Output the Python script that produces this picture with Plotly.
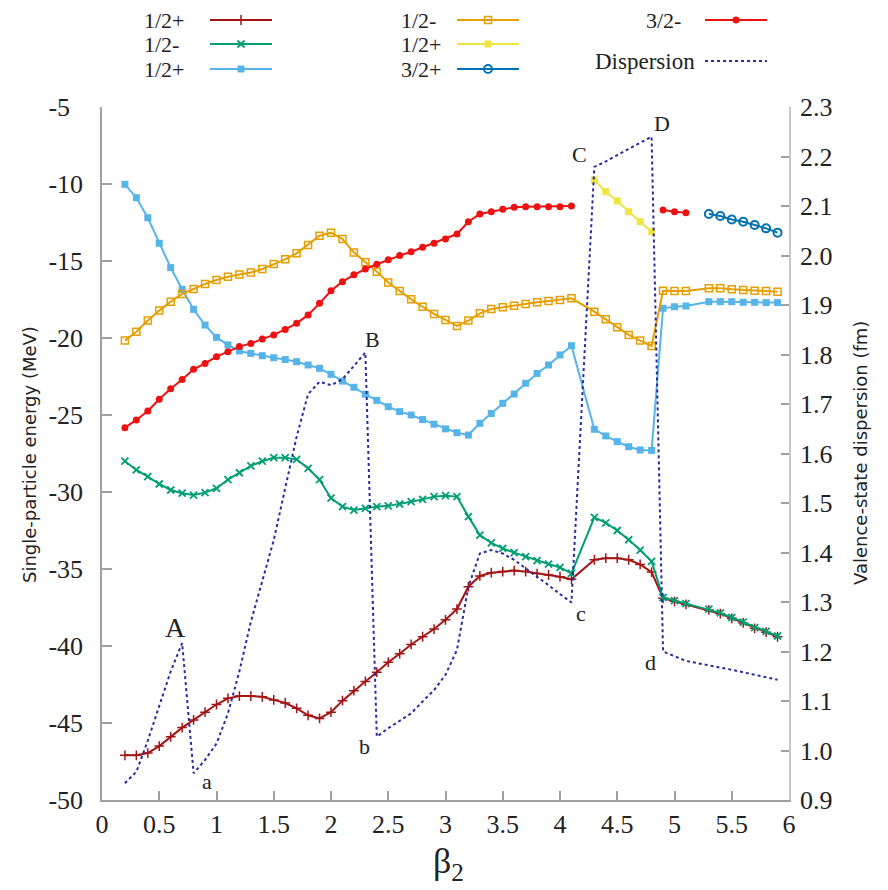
import plotly.graph_objects as go

# ---------------- data ----------------
beta = [0.2, 0.3, 0.4, 0.5, 0.6, 0.7, 0.8, 0.9, 1.0, 1.1,
        1.2, 1.3, 1.4, 1.5, 1.6, 1.7, 1.8, 1.9, 2.0, 2.1,
        2.2, 2.3, 2.4, 2.5, 2.6, 2.7, 2.8, 2.9, 3.0, 3.1,
        3.2, 3.3, 3.4, 3.5, 3.6, 3.7, 3.8, 3.9, 4.0, 4.1,
        4.3, 4.4, 4.5, 4.6, 4.7, 4.8, 4.9, 5.0, 5.1,
        5.3, 5.4, 5.5, 5.6, 5.7, 5.8, 5.9]

e_half_plus_a = [-47.1, -47.1, -46.95, -46.5, -45.9, -45.3, -44.8, -44.3, -43.8, -43.4,
                 -43.25, -43.25, -43.3, -43.5, -43.7, -44.05, -44.5, -44.7, -44.3, -43.55,
                 -42.9, -42.3, -41.7, -41.05, -40.5, -39.9, -39.4, -38.9, -38.3, -37.6,
                 -36.15, -35.45, -35.24, -35.17, -35.1, -35.17, -35.3, -35.39, -35.5, -35.67,
                 -34.4, -34.3, -34.3, -34.4, -34.7, -35.2, -36.9, -37.1, -37.3,
                 -37.66, -37.9, -38.2, -38.5, -38.85, -39.1, -39.4]

e_half_minus_a = [-28.0, -28.57, -29.0, -29.48, -29.87, -30.08, -30.2, -30.04, -29.76, -29.2,
                  -28.75, -28.3, -28.0, -27.77, -27.77, -27.88, -28.46, -29.2, -30.4, -30.95,
                  -31.17, -31.06, -30.95, -30.9, -30.78, -30.63, -30.48, -30.3, -30.24, -30.3,
                  -31.6, -32.8, -33.3, -33.66, -33.94, -34.2, -34.46, -34.68, -34.9, -35.28,
                  -31.65, -32.0, -32.5, -33.1, -33.77, -34.5, -36.85, -37.05, -37.25,
                  -37.6, -37.85, -38.15, -38.45, -38.8, -39.05, -39.35]

e_half_plus_b = [-10.02, -10.89, -12.19, -13.85, -15.43, -16.84, -18.14, -19.16, -19.96, -20.45,
                 -20.84, -21.0, -21.15, -21.28, -21.4, -21.54, -21.75, -21.97, -22.36, -22.8,
                 -23.2, -23.65, -24.05, -24.46, -24.78, -25.0, -25.3, -25.6, -25.9, -26.15,
                 -26.3, -25.54, -24.9, -24.24, -23.64, -22.94, -22.3, -21.75, -21.1, -20.5,
                 -25.93, -26.36, -26.73, -27.06, -27.27, -27.3, -18.07, -17.97, -17.92,
                 -17.64, -17.64, -17.64, -17.68, -17.68, -17.7, -17.7]

e_half_minus_b = [-20.17, -19.59, -18.87, -18.22, -17.64, -17.14, -16.82, -16.49, -16.23, -16.02,
                  -15.87, -15.74, -15.52, -15.2, -14.89, -14.5, -13.96, -13.36, -13.16, -13.57,
                  -14.44, -15.08, -15.69, -16.4, -16.95, -17.49, -17.97, -18.44, -18.83, -19.22,
                  -18.87, -18.4, -18.12, -18.0, -17.9, -17.79, -17.68, -17.6, -17.53, -17.42,
                  -18.29, -18.79, -19.3, -19.8, -20.17, -20.52, -16.93, -16.95, -16.95,
                  -16.77, -16.77, -16.84, -16.88, -16.93, -16.95, -16.99]

e_three_minus = [-25.82, -25.32, -24.74, -23.98, -23.3, -22.7, -22.03, -21.65, -21.21, -20.89,
                 -20.56, -20.35, -20.06, -19.8, -19.44, -19.05, -18.5, -17.75, -16.93, -16.34,
                 -15.9, -15.52, -15.21, -14.92, -14.65, -14.4, -14.11, -13.85, -13.57, -13.25,
                 -12.45, -11.95, -11.8, -11.64, -11.51, -11.47, -11.47, -11.47, -11.47, -11.43,
                 None, None, None, None, None, None, -11.69, -11.8, -11.86,
                 None, None, None, None, None, None, None]

beta_half_plus_c = [4.3, 4.4, 4.5, 4.6, 4.7, 4.8]
e_half_plus_c = [-9.74, -10.5, -11.1, -11.8, -12.45, -13.1]

beta_three_plus = [5.3, 5.4, 5.5, 5.6, 5.7, 5.8, 5.9]
e_three_plus = [-11.95, -12.08, -12.3, -12.45, -12.66, -12.88, -13.16]

dispersion = [0.934, 0.957, 1.02, 1.09, 1.16, 1.217, 0.954, 0.981, 1.014, 1.075,
              1.16, 1.26, 1.345, 1.425, 1.53, 1.634, 1.72, 1.745, 1.738, 1.75,
              1.777, 1.804, 1.028, 1.045, 1.06, 1.075, 1.099, 1.122, 1.153, 1.203,
              1.331, 1.398, 1.405, 1.398, 1.385, 1.368, 1.352, 1.334, 1.316, 1.299,
              2.179, 2.19, 2.203, 2.215, 2.228, 2.24, 1.2, 1.19, 1.181,
              1.172, 1.168, 1.163, 1.158, 1.153, 1.148, 1.143]

x_ticks = [0, 0.5, 1, 1.5, 2, 2.5, 3, 3.5, 4, 4.5, 5, 5.5, 6]
x_tick_text = ["0", "0.5", "1", "1.5", "2", "2.5", "3", "3.5", "4", "4.5", "5", "5.5", "6"]
y_ticks = [-5, -10, -15, -20, -25, -30, -35, -40, -45, -50]
y_tick_text = ["-5\u2007", "-10", "-15", "-20", "-25", "-30", "-35", "-40", "-45", "-50"]
y2_ticks = [0.9, 1.0, 1.1, 1.2, 1.3, 1.4, 1.5, 1.6, 1.7, 1.8, 1.9, 2.0, 2.1, 2.2, 2.3]
y2_tick_text = ["0.9", "1.0", "1.1", "1.2", "1.3", "1.4", "1.5", "1.6", "1.7", "1.8",
                "1.9", "2.0", "2.1", "2.2", "2.3"]

point_labels = ["A", "a", "B", "b", "C", "c", "D", "d"]
point_label_x = [0.64, 0.92, 2.36, 2.29, 4.17, 4.18, 4.89, 4.79]
point_label_y = [-38.8, -48.8, -20.1, -46.55, -8.1, -37.9, -6.1, -41.1]

# ---------------- styles ----------------
C_DRED = "#a31515"
C_GREEN = "#009e73"
C_SKY = "#56b4e9"
C_ORANGE = "#e69f00"
C_YELLOW = "#f0e442"
C_BLUE = "#0072b2"
C_RED = "#ee1111"
C_DISP = "#2a2aa0"
AX = "#a0a0a0"
TXT = "#222222"
SERIF = "Liberation Serif, DejaVu Serif, serif"
SANS = "DejaVu Sans, Open Sans, sans-serif"

W, H = 888, 890
ML, MR, MT, MB = 102, 99, 0, 90
PH = H - MT - MB          # plotting height in px (800)
TOP_PX = 107              # top of data area (px from top)
main_top = (PH - TOP_PX) / PH

series = [
    dict(x=beta, y=e_half_plus_a, name="1/2+", color=C_DRED,
         marker=dict(symbol="cross-thin", size=7, line=dict(width=1.5, color=C_DRED))),
    dict(x=beta, y=e_half_minus_a, name="1/2-", color=C_GREEN,
         marker=dict(symbol="x-thin", size=7, line=dict(width=1.8, color=C_GREEN))),
    dict(x=beta, y=e_half_plus_b, name="1/2+", color=C_SKY,
         marker=dict(symbol="square", size=7, color=C_SKY)),
    dict(x=beta, y=e_half_minus_b, name="1/2-", color=C_ORANGE,
         marker=dict(symbol="square-open", size=7, color=C_ORANGE, line=dict(width=1.5, color=C_ORANGE))),
    dict(x=beta_half_plus_c, y=e_half_plus_c, name="1/2+", color=C_YELLOW,
         marker=dict(symbol="square", size=7, color=C_YELLOW)),
    dict(x=beta_three_plus, y=e_three_plus, name="3/2+", color=C_BLUE,
         marker=dict(symbol="circle-open", size=8, color=C_BLUE, line=dict(width=2, color=C_BLUE))),
    dict(x=beta, y=e_three_minus, name="3/2-", color=C_RED,
         marker=dict(symbol="circle", size=7, color=C_RED)),
]

fig = go.Figure()

fig.add_trace(go.Scatter(x=beta, y=dispersion, yaxis="y2", mode="lines",
                         line=dict(color=C_DISP, width=2, dash="dot"),
                         name="Dispersion", showlegend=False, hoverinfo="skip"))

for s in series:
    fig.add_trace(go.Scatter(x=s["x"], y=s["y"], mode="lines+markers",
                             line=dict(color=s["color"], width=2),
                             marker=s["marker"], name=s["name"],
                             showlegend=False, connectgaps=False))

# ---------------- manual key (gnuplot style: text then sample) ----------------
key_rows = [20, 44, 69]
key_cols = [  # (text x, anchor, sample x0, sample x1)
    (142, "left", 210, 272),
    (399, "left", 457, 519),
    (683, "right", 705, 767),
]
key_entries = [
    (0, 0, series[0]), (0, 1, series[1]), (0, 2, series[2]),
    (1, 0, series[3]), (1, 1, series[4]), (1, 2, series[5]),
    (2, 0, series[6]),
]
KEY_FONT = dict(family=SERIF, size=22, color=TXT)
annotations = []
for col, row, s in key_entries:
    tx, anc, x0, x1 = key_cols[col]
    yy = key_rows[row]
    fig.add_trace(go.Scatter(x=[x0, x1], y=[yy, yy], xaxis="x3", yaxis="y3", mode="lines",
                             line=dict(color=s["color"], width=2), showlegend=False, hoverinfo="skip"))
    fig.add_trace(go.Scatter(x=[(x0 + x1) / 2], y=[yy], xaxis="x3", yaxis="y3", mode="markers",
                             marker=s["marker"], showlegend=False, hoverinfo="skip"))
    annotations.append(dict(x=tx, y=yy, xref="x3", yref="y3", text=s["name"], showarrow=False,
                            xanchor=anc, yanchor="middle", font=KEY_FONT))
# dispersion key
fig.add_trace(go.Scatter(x=[705, 767], y=[61, 61], xaxis="x3", yaxis="y3", mode="lines",
                         line=dict(color=C_DISP, width=2, dash="dot"), showlegend=False, hoverinfo="skip"))
annotations.append(dict(x=697, y=61, xref="x3", yref="y3", text="Dispersion", showarrow=False,
                        xanchor="right", yanchor="middle", font=dict(family=SERIF, size=23, color=TXT)))

# point labels
for lbl, lx, ly in zip(point_labels, point_label_x, point_label_y):
    annotations.append(dict(x=lx, y=ly, xref="x", yref="y", text=lbl, showarrow=False,
                            xanchor="center", yanchor="middle",
                            font=dict(family=SERIF, size=28 if lbl == "A" else 22, color=TXT)))

# axis titles
annotations.append(dict(x=(29 - ML) / (W - ML - MR), y=(PH - 455) / PH, xref="paper", yref="paper",
                        text="Single-particle energy (MeV)", textangle=-90, showarrow=False,
                        xanchor="center", yanchor="middle",
                        font=dict(family=SANS, size=18, color=TXT)))
annotations.append(dict(x=(861 - ML) / (W - ML - MR), y=(PH - 453) / PH, xref="paper", yref="paper",
                        text="Valence-state dispersion (fm)", textangle=-90, showarrow=False,
                        xanchor="center", yanchor="middle",
                        font=dict(family=SANS, size=18, color=TXT)))
annotations.append(dict(x=(448 - ML) / (W - ML - MR), y=(PH - 863) / PH, xref="paper", yref="paper",
                        text="β<sub>2</sub>", showarrow=False, xanchor="center", yanchor="middle",
                        font=dict(family=SERIF, size=36, color=TXT)))

tick_font = dict(family=SERIF, size=26, color=TXT)

fig.update_layout(
    width=W, height=H,
    margin=dict(l=ML, r=MR, t=MT, b=MB, autoexpand=False),
    paper_bgcolor="white", plot_bgcolor="white",
    showlegend=False,
    annotations=annotations,
    xaxis=dict(domain=[0, 1], range=[0, 6], tickvals=x_ticks, ticktext=x_tick_text,
               ticks="inside", ticklen=9, tickcolor=AX, tickwidth=1.5,
               showline=True, linecolor=AX, linewidth=1.5, showgrid=False, zeroline=False,
               tickfont=tick_font, anchor="y", automargin=False),
    yaxis=dict(domain=[0, main_top], range=[-50, -5], tickvals=y_ticks, ticktext=y_tick_text,
               ticks="inside", ticklen=10, tickcolor=AX, tickwidth=1.5,
               showline=True, linecolor=AX, linewidth=1.5, showgrid=False, zeroline=False,
               tickfont=tick_font, ticklabelstandoff=12, automargin=False),
    yaxis2=dict(overlaying="y", side="right", range=[0.9, 2.3], tickvals=y2_ticks, ticktext=y2_tick_text,
                ticks="inside", ticklen=8, tickcolor=AX, tickwidth=1.5,
                showline=True, linecolor="#c8c8c8", linewidth=1.5, showgrid=False, zeroline=False,
                tickfont=tick_font, ticklabelstandoff=4, automargin=False),
    xaxis3=dict(domain=[0, 1], range=[ML, W - MR], visible=False, anchor="y3", fixedrange=True,
                automargin=False),
    yaxis3=dict(domain=[main_top + 0.004, 1], range=[(1 - main_top - 0.004) * PH, 0], visible=False,
                anchor="x3", fixedrange=True, automargin=False),
)

fig.write_html("out.html")
